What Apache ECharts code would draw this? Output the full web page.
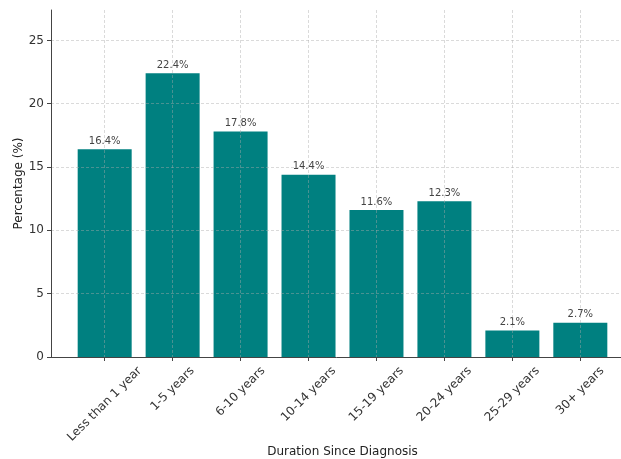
<!DOCTYPE html>
<html>
<head>
<meta charset="utf-8">
<script src="https://cdn.jsdelivr.net/npm/echarts@6/dist/echarts.min.js"></script>
<style>html,body{margin:0;padding:0;background:#fff}#c{width:621px;height:459px}</style>
</head>
<body>
<div id="c"></div>
<script>
var categories = ["Less than 1 year", "1-5 years", "6-10 years", "10-14 years", "15-19 years", "20-24 years", "25-29 years", "30+ years"];
var percentages = [16.4, 22.4, 17.8, 14.4, 11.6, 12.3, 2.1, 2.7];
var xTitle = "Duration Since Diagnosis";
var yTitle = "Percentage (%)";

var font = "DejaVu Sans";
var tickFontSize = 12;
var lineH = 14;

// rotated labels centred under their tick (bounding box centred, top at the tick)
var cnv = document.createElement("canvas").getContext("2d");
cnv.font = tickFontSize + "px '" + font + "'";
var rich = {};
categories.forEach(function (name, i) {
  var w = cnv.measureText(name).width;
  var p = 0.5 * (w + lineH);
  rich["p" + i] = {padding: [p, p, 0, 0], fontSize: tickFontSize, color: "#333", fontFamily: font, lineHeight: lineH};
});

var gridLine = {show: true, showMinLine: false, showMaxLine: false, lineStyle: {color: "rgba(170,170,170,0.55)", type: [3, 2], width: 0.8}};
var chart = echarts.init(document.getElementById("c"), null, {renderer: "canvas"});
chart.setOption({
  animation: false,
  backgroundColor: "#fff",
  grid: {left: 51, top: 10, width: 583, height: 347, outerBoundsMode: "none", containLabel: false},
  xAxis: {
    type: "value", min: -0.79, max: 7.79, minInterval: 1, maxInterval: 1, z: 3,
    axisLine: {show: true, onZero: false, lineStyle: {color: "#444", width: 1}},
    axisTick: {show: true, length: 4, lineStyle: {color: "#444"}},
    axisLabel: {
      rotate: 45, margin: 7, align: "center", verticalAlign: "middle",
      fontSize: tickFontSize, color: "#333", fontFamily: font,
      showMinLabel: false, showMaxLabel: false, hideOverlap: false,
      formatter: function (v) { var r = Math.round(v); return Math.abs(v - r) < 1e-6 && r >= 0 && r < categories.length ? "{p" + r + "|" + categories[r] + "}" : ""; },
      rich: rich
    },
    splitLine: gridLine,
    name: xTitle, nameLocation: "middle", nameGap: 89, nameMoveOverlap: false,
    nameTextStyle: {fontSize: 12, color: "#222", fontFamily: font}
  },
  yAxis: {
    type: "value", min: 0, max: 27.4, interval: 5, z: 3,
    axisLine: {show: true, onZero: false, lineStyle: {color: "#444", width: 1}},
    axisTick: {show: true, length: 4, lineStyle: {color: "#444"}},
    axisLabel: {fontSize: tickFontSize, color: "#333", fontFamily: font, margin: 7, showMaxLabel: false},
    splitLine: gridLine,
    name: yTitle, nameLocation: "middle", nameGap: 26, nameMoveOverlap: false,
    nameTextStyle: {fontSize: 12, color: "#222", fontFamily: font}
  },
  series: [{
    type: "bar",
    data: percentages.map(function (v, i) { return [i, v]; }),
    barWidth: 54,
    itemStyle: {color: "#008080"},
    label: {
      show: true, position: "top", distance: 3, fontSize: 10, color: "#444", fontFamily: font,
      formatter: function (p) { return p.value[1].toFixed(1) + "%"; }
    }
  }]
});
</script>
</body>
</html>
